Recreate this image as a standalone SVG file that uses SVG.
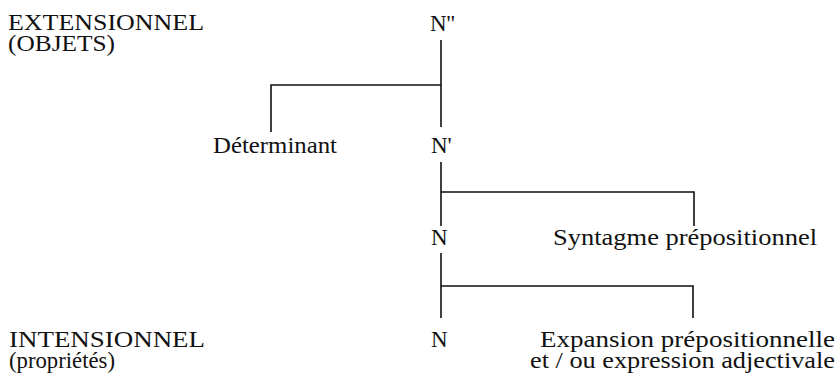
<svg xmlns="http://www.w3.org/2000/svg" width="839" height="373" viewBox="0 0 839 373">
<style>
text{font-family:"Liberation Serif","DejaVu Serif","Times New Roman",serif;font-size:23px;fill:#111}
.c{stroke:#111;stroke-width:1.6;fill:none}
</style>
<rect width="839" height="373" fill="#fff"/>
<g id="labels">
<text x="8" y="30" textLength="196" lengthAdjust="spacingAndGlyphs">EXTENSIONNEL</text>
<text x="8" y="51" textLength="107" lengthAdjust="spacingAndGlyphs">(OBJETS)</text>
<text x="9" y="347" textLength="196" lengthAdjust="spacingAndGlyphs">INTENSIONNEL</text>
<text x="9" y="368" textLength="106" lengthAdjust="spacingAndGlyphs">(propriétés)</text>
</g>
<g id="connectors">
<path class="c" d="M441 40V127M441 85H271V132"/>
<path class="c" d="M441 162V226M441 192H694V226"/>
<path class="c" d="M441 253V318M441 286H693V318"/>
</g>
<g id="n2"><text x="430" y="31">N''</text></g>
<g id="det"><text x="213" y="153" textLength="124" lengthAdjust="spacingAndGlyphs">Déterminant</text></g>
<g id="n1"><text x="431" y="153">N'</text></g>
<g id="n0a"><text x="431" y="245">N</text></g>
<g id="sp"><text x="553" y="245" textLength="264" lengthAdjust="spacingAndGlyphs">Syntagme prépositionnel</text></g>
<g id="n0b"><text x="431" y="347">N</text></g>
<g id="exp"><text x="540" y="347" textLength="295" lengthAdjust="spacingAndGlyphs">Expansion prépositionnelle</text>
<text x="530" y="368" textLength="305" lengthAdjust="spacingAndGlyphs">et / ou expression adjectivale</text></g>
</svg>
